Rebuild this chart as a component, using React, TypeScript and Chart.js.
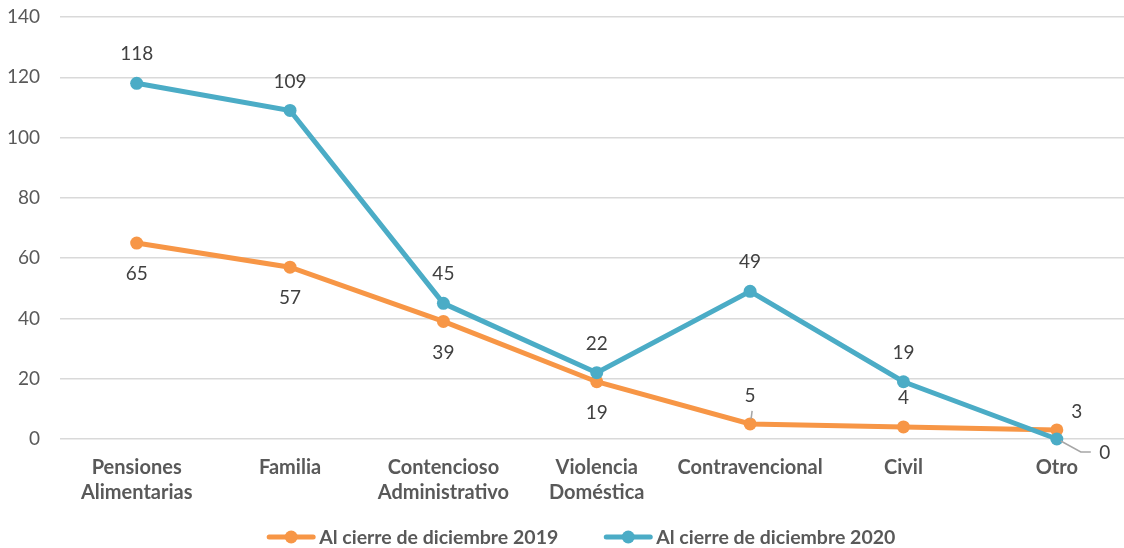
import React, { useEffect, useRef } from "react";
import { Chart, registerables } from "chart.js";

Chart.register(...registerables);

const categories: (string | string[])[] = [
  ["Pensiones", "Alimentarias"],
  "Familia",
  ["Contencioso", "Administrativo"],
  ["Violencia", "Doméstica"],
  "Contravencional",
  "Civil",
  "Otro",
];
const series2019 = [65, 57, 39, 19, 5, 4, 3];
const series2020 = [118, 109, 45, 22, 49, 19, 0];
const yTicks = [0, 20, 40, 60, 80, 100, 120, 140];
const label2019 = "Al cierre de diciembre 2019";
const label2020 = "Al cierre de diciembre 2020";
// label placement per point
const place2019 = ["below", "below", "below", "below", "aboveLeader", "above", "aboveRight"];
const place2020 = ["above", "above", "above", "above", "above", "above", "rightLeader"];

const ORANGE = "#F79646";
const TEAL = "#4BACC6";
const FONT = "Lato, 'Noto Sans', sans-serif";

const labelPlugin = {
  id: "valueLabels",
  afterDatasetsDraw(chart: any) {
    const ctx = chart.ctx;
    ctx.save();
    ctx.font = `19px ${FONT}`;
    ctx.fillStyle = "#404040";
    ctx.textAlign = "center";
    ctx.textBaseline = "middle";
    const places = [place2019, place2020];
    chart.data.datasets.forEach((ds: any, di: number) => {
      const meta = chart.getDatasetMeta(di);
      meta.data.forEach((pt: any, i: number) => {
        const v = String(ds.data[i]);
        const p = places[di][i];
        const x = pt.x;
        const y = pt.y;
        ctx.strokeStyle = "#A6A6A6";
        ctx.lineWidth = 1.5;
        if (p === "above") {
          ctx.fillText(v, x, y - 29);
        } else if (p === "below") {
          ctx.fillText(v, x, y + 31);
        } else if (p === "aboveLeader") {
          ctx.beginPath();
          ctx.moveTo(x + 1, y - 5);
          ctx.lineTo(x + 2, y - 13);
          ctx.stroke();
          ctx.fillText(v, x, y - 28);
        } else if (p === "aboveRight") {
          ctx.fillText(v, x + 20, y - 18);
        } else if (p === "rightLeader") {
          ctx.beginPath();
          ctx.moveTo(x + 4, y + 2);
          ctx.lineTo(x + 24, y + 13);
          ctx.lineTo(x + 34, y + 13);
          ctx.stroke();
          ctx.fillText(v, x + 48, y + 14);
        }
      });
    });
    ctx.restore();
  },
};

// legend: line-with-marker icons, drawn below the x axis
const legendPlugin = {
  id: "lineLegend",
  afterDraw(chart: any) {
    const ctx = chart.ctx;
    const area = chart.chartArea;
    ctx.save();
    ctx.font = `bold 19.5px ${FONT}`;
    ctx.textBaseline = "middle";
    ctx.textAlign = "left";
    const iconW = 50;
    const iconGap = 3;
    const itemGap = 45;
    const items = chart.data.datasets.map((ds: any) => ({
      text: ds.label,
      color: ds.borderColor,
      w: iconW + iconGap + ctx.measureText(ds.label).width,
    }));
    const total = items.reduce((s: number, it: any) => s + it.w, 0) + itemGap * (items.length - 1);
    let x = (area.left + area.right) / 2 - 16 - total / 2;
    const y = chart.height - 11;
    items.forEach((it: any) => {
      ctx.strokeStyle = it.color;
      ctx.lineWidth = 5;
      ctx.lineCap = "round";
      ctx.beginPath();
      ctx.moveTo(x + 3, y);
      ctx.lineTo(x + iconW - 3, y);
      ctx.stroke();
      ctx.fillStyle = it.color;
      ctx.beginPath();
      ctx.arc(x + iconW / 2, y, 6.5, 0, Math.PI * 2);
      ctx.fill();
      ctx.fillStyle = "#595959";
      ctx.fillText(it.text, x + iconW + iconGap, y + 1);
      x += it.w + itemGap;
    });
    ctx.restore();
  },
};

export default function App() {
  const ref = useRef<HTMLCanvasElement>(null);
  useEffect(() => {
    document.body.style.margin = "0";
    document.body.style.overflow = "hidden";
    const chart = new Chart(ref.current!, {
      type: "line",
      data: {
        labels: categories,
        datasets: [
          {
            label: label2019,
            data: series2019,
            borderColor: ORANGE,
            backgroundColor: ORANGE,
            borderWidth: 5,
            pointRadius: 6.5,
            pointBackgroundColor: ORANGE,
            pointBorderWidth: 0,
            tension: 0,
            order: 1,
            clip: false,
          },
          {
            label: label2020,
            data: series2020,
            borderColor: TEAL,
            backgroundColor: TEAL,
            borderWidth: 5,
            pointRadius: 6.5,
            pointBackgroundColor: TEAL,
            pointBorderWidth: 0,
            tension: 0,
            order: 0,
            clip: false,
          },
        ],
      },
      options: {
        responsive: false,
        animation: false,
        layout: { padding: { left: 8, right: 5, top: 17, bottom: 35 } },
        plugins: {
          tooltip: { enabled: false },
          legend: { display: false },
        },
        scales: {
          x: {
            offset: true,
            grid: { display: false, offset: true },
            border: { display: false },
            ticks: {
              color: "#595959",
              font: { family: FONT, size: 20, weight: "bold", lineHeight: 1.25 },
              maxRotation: 0,
              autoSkip: false,
              padding: 8,
            },
          },
          y: {
            min: 0,
            max: 140,
            afterBuildTicks: (axis: any) => {
              axis.ticks = yTicks.map((v) => ({ value: v }));
            },
            afterFit: (axis: any) => {
              axis.width = 52;
            },
            grid: {
              color: "#D9D9D9",
              lineWidth: 1.5,
              drawTicks: true,
              tickLength: 20,
              tickColor: "rgba(0,0,0,0)",
            },
            border: { display: false },
            ticks: {
              color: "#595959",
              font: { family: FONT, size: 19 },
              padding: 0,
            },
          },
        },
      },
      plugins: [labelPlugin, legendPlugin],
    });
    return () => chart.destroy();
  }, []);
  return (
    <div style={{ width: 1124, height: 548, overflow: "hidden", position: "relative" }}>
      <canvas ref={ref} width={1140} height={548} style={{ display: "block" }} />
    </div>
  );
}
